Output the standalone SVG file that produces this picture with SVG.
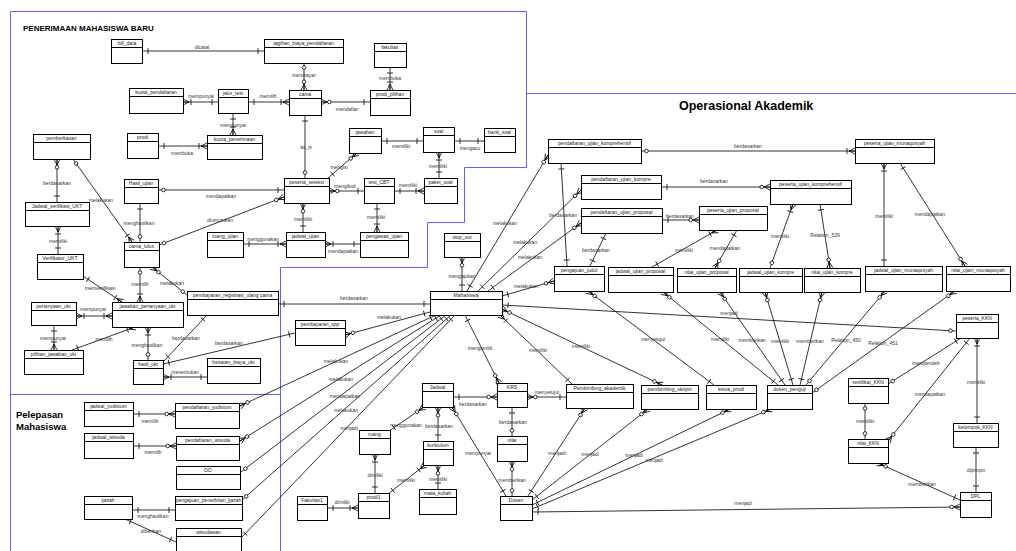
<svg xmlns="http://www.w3.org/2000/svg" width="1016" height="551" viewBox="0 0 1016 551">
<style>
.e rect{fill:#fff;stroke:#000;stroke-width:1}
.e path{stroke:#000;stroke-width:1;fill:none}
.e text{font-family:"Liberation Sans",Arial,sans-serif;font-size:5px;fill:#222;text-anchor:middle}
.c path{fill:none;stroke:#000;stroke-width:.8}
.lb text{font-family:"Liberation Sans",Arial,sans-serif;font-size:5px;fill:#333;text-anchor:middle}
.rg{fill:none;stroke:#5c5cff;stroke-width:1}
.tt{font-family:"Liberation Sans",Arial,sans-serif;font-weight:bold;fill:#000}
.s1{marker-start:url(#one)}.sM{marker-start:url(#many)}.sZ{marker-start:url(#zero)}.sZM{marker-start:url(#zmany)}
.t1{marker-end:url(#one)}.tM{marker-end:url(#many)}.tZ{marker-end:url(#zero)}.tZM{marker-end:url(#zmany)}
</style>
<defs>
<marker id="one" markerUnits="userSpaceOnUse" orient="auto-start-reverse" markerWidth="20" markerHeight="20" refX="0" refY="0" overflow="visible"><path d="M-6,-3V3" fill="none" stroke="#000" stroke-width="0.8"/></marker>
<marker id="many" markerUnits="userSpaceOnUse" orient="auto-start-reverse" markerWidth="20" markerHeight="20" refX="0" refY="0" overflow="visible"><path d="M0,-3L-6,0L0,3M0,0H-6M-8,-3V3" fill="none" stroke="#000" stroke-width="0.8"/></marker>
<marker id="zero" markerUnits="userSpaceOnUse" orient="auto-start-reverse" markerWidth="20" markerHeight="20" refX="0" refY="0" overflow="visible"><circle cx="-5.5" cy="0" r="1.8" fill="#fff" stroke="#000" stroke-width="0.8"/></marker>
<marker id="zmany" markerUnits="userSpaceOnUse" orient="auto-start-reverse" markerWidth="20" markerHeight="20" refX="0" refY="0" overflow="visible"><path d="M0,-3L-6,0L0,3M0,0H-6" fill="none" stroke="#000" stroke-width="0.8"/><circle cx="-8.3" cy="0" r="1.8" fill="#fff" stroke="#000" stroke-width="0.8"/></marker>
</defs>
<rect width="1016" height="551" fill="#fff"/>
<g id="regions">
<path class="rg" d="M10.5 551V11.5H526.5V167.5H464.5V222.5H427.5V267.5H280.5V551M10.5 394.5H280.5M526.5 93.5H1016"/>
<text class="tt" x="23" y="30.5" font-size="8">PENERIMAAN MAHASISWA BARU</text>
<text class="tt" x="679" y="110" font-size="12.5">Operasional Akademik</text>
<text class="tt" x="16" y="418" font-size="9.5">Pelepasan</text>
<text class="tt" x="16" y="430" font-size="9.5">Mahasiswa</text>
</g>
<g id="connectors" class="c">
<path d="M142 51H264" class="s1 t1"/>
<path d="M304 62V90" class="sZ tZM"/>
<path d="M183 102H218" class="sM t1"/>
<path d="M248 102H289" class="s1 tM"/>
<path d="M233 113V135" class="s1 tM"/>
<path d="M158 146H207" class="s1 tM"/>
<path d="M390 67V90" class="s1 tM"/>
<path d="M321 102H370" class="sZM t1"/>
<path d="M305 115V178" class="s1 tZ"/>
<path d="M381 141H423" class="s1 t1"/>
<path d="M454 141H484" class="s1 t1"/>
<path d="M439 152V178" class="sM t1"/>
<path d="M357 153L328 178" class="sZM t1"/>
<path d="M57 159V202" class="sZM t1"/>
<path d="M73 159L132 242" class="sZ tM"/>
<path d="M158 190H284" class="sZ t1"/>
<path d="M140 203V242" class="s1 tZ"/>
<path d="M159 245L284 197" class="sZ tZM"/>
<path d="M58 226V254" class="sM t1"/>
<path d="M83 276L122 302" class="s1 tM"/>
<path d="M140 267V302" class="sZ tM"/>
<path d="M152 267L187 295" class="sZM tZ"/>
<path d="M76 316H112" class="sM tM"/>
<path d="M54 325V350" class="s1 tM"/>
<path d="M135 327L72 350" class="sM t1"/>
<path d="M148 327V360" class="sM tZ"/>
<path d="M207 315L164 361" class="s1 t1"/>
<path d="M163 364L295 333" class="s1 t1"/>
<path d="M163 377H207" class="sM t1"/>
<path d="M278 304H430" class="s1 t1"/>
<path d="M345 335L430 312" class="sZM t1"/>
<path d="M329 191H364" class="sZM t1"/>
<path d="M394 191H424" class="s1 tM"/>
<path d="M303 203V232" class="sZM t1"/>
<path d="M377 203V232" class="s1 tM"/>
<path d="M243 244H286" class="s1 tM"/>
<path d="M325 244H360" class="sM t1"/>
<path d="M462 257V291" class="sZM t1"/>
<path d="M467 291L548 155" class="s1 tZM"/>
<path d="M478 291L581 190" class="s1 tZM"/>
<path d="M488 291L581 223" class="s1 tZM"/>
<path d="M502 296L554 281" class="s1 tZM"/>
<path d="M561 163L567 266" class="s1 t1"/>
<path d="M606 233L590 266" class="s1 t1"/>
<path d="M641 151H855" class="sZ tM"/>
<path d="M661 187H770" class="s1 tZM"/>
<path d="M662 220H699" class="s1 tZM"/>
<path d="M717 230L652 267" class="sM t1"/>
<path d="M737 230L715 268" class="s1 tZM"/>
<path d="M793 204L770 268" class="sM tZ"/>
<path d="M820 204L830 268" class="s1 tZM"/>
<path d="M884 163V266" class="sM t1"/>
<path d="M900 163L965 266" class="s1 tZM"/>
<path d="M502 305L956 331" class="s1 tZ"/>
<path d="M502 309L662 385" class="sZM tZM"/>
<path d="M500 315L572 384" class="sM t1"/>
<path d="M465 315L499 383" class="s1 tZM"/>
<path d="M240 406L436 315" class="sZM t1"/>
<path d="M240 441L441 315" class="sZM t1"/>
<path d="M241 472L446 315" class="sZ t1"/>
<path d="M242 500L451 315" class="sZ t1"/>
<path d="M241 538L455 315" class="s1 t1"/>
<path d="M133 414H175" class="s1 tZM"/>
<path d="M133 446H176" class="s1 tZM"/>
<path d="M132 510H175" class="s1 t1"/>
<path d="M125 519L176 542" class="s1 t1"/>
<path d="M453 397H497" class="s1 tZM"/>
<path d="M527 397H566" class="sZM t1"/>
<path d="M512 407V436" class="s1 tZ"/>
<path d="M424 407L389 431" class="sZM t1"/>
<path d="M438 407V441" class="sZM t1"/>
<path d="M375 454V493" class="sM t1"/>
<path d="M425 465L388 494" class="sM t1"/>
<path d="M438 465V489" class="sZM t1"/>
<path d="M327 508H358" class="s1 tM"/>
<path d="M452 407L506 496" class="sZM t1"/>
<path d="M512 461V496" class="sZM tZ"/>
<path d="M585 408L528 496" class="sZM t1"/>
<path d="M648 409L532 500" class="sZM t1"/>
<path d="M730 409L532 505" class="sZM t1"/>
<path d="M771 409L532 509" class="sZM t1"/>
<path d="M532 512L960 507" class="s1 tZM"/>
<path d="M663 292L778 385" class="sZM t1"/>
<path d="M720 292L785 385" class="sZM t1"/>
<path d="M765 292L793 385" class="sZM t1"/>
<path d="M822 292L800 385" class="sZM t1"/>
<path d="M885 291L806 385" class="sZM tZ"/>
<path d="M955 291L812 393" class="sZM tZ"/>
<path d="M588 291L714 385" class="sZM t1"/>
<path d="M961 338L888 384" class="s1 tZ"/>
<path d="M970 338L888 441" class="s1 tZM"/>
<path d="M977 338V423" class="sM t1"/>
<path d="M865 403V439" class="sZ tZ"/>
<path d="M878 463L960 500" class="sZM t1"/>
<path d="M976 447V492" class="s1 t1"/>
<g class="lb">
<text x="202" y="48.8">dicatat</text>
<text x="304" y="76.8">membayar</text>
<text x="201" y="97.8">mempunyai</text>
<text x="268" y="97.8">memilih</text>
<text x="233" y="126.8">mempunyai</text>
<text x="182" y="154.8">membuka</text>
<text x="390" y="79.8">membuka</text>
<text x="347" y="110.8">mendaftar</text>
<text x="306" y="148.8">as_is</text>
<text x="401" y="147.8">memiliki</text>
<text x="470" y="149.8">mengacu</text>
<text x="438" y="167.8">memiliki</text>
<text x="339" y="168.8">mengisi</text>
<text x="57" y="184.8">berdasarkan</text>
<text x="101" y="201.8">melakukan</text>
<text x="221" y="197.8">mendapatkan</text>
<text x="139" y="224.8">menghasilkan</text>
<text x="220" y="221.8">diumumkan</text>
<text x="58" y="242.8">memiliki</text>
<text x="100" y="289.8">memverifikasi</text>
<text x="140" y="285.8">memilih</text>
<text x="172" y="284.8">melakukan</text>
<text x="93" y="310.8">mempunyai</text>
<text x="53" y="339.8">mempunyai</text>
<text x="104" y="340.8">memilih</text>
<text x="147" y="346.8">menghasilkan</text>
<text x="186" y="339.8">berdasarkan</text>
<text x="229" y="344.8">berdasarkan</text>
<text x="185" y="373.8">menentukan</text>
<text x="354" y="299.8">berdasarkan</text>
<text x="389" y="318.8">melakukan</text>
<text x="345" y="187.8">mengikuti</text>
<text x="408" y="186.8">memiliki</text>
<text x="303" y="220.8">memiliki</text>
<text x="376" y="218.8">memiliki</text>
<text x="263" y="240.8">menggunakan</text>
<text x="343" y="252.8">mendapatkan</text>
<text x="462" y="277.8">mengajukan</text>
<text x="505" y="224.8">melakukan</text>
<text x="525" y="243.8">melakukan</text>
<text x="530" y="258.8">melakukan</text>
<text x="526" y="287.8">melakukan</text>
<text x="563" y="216.8">berdasarkan</text>
<text x="596" y="251.8">berdasarkan</text>
<text x="748" y="147.8">berdasarkan</text>
<text x="714" y="182.8">berdasarkan</text>
<text x="680" y="217.8">berdasarkan</text>
<text x="684" y="251.8">memiliki</text>
<text x="725" y="249.8">mendapatkan</text>
<text x="780" y="237.8">memiliki</text>
<text x="825" y="236.8">Relation_539</text>
<text x="884" y="217.8">memiliki</text>
<text x="930" y="215.8">mendapatkan</text>
<text x="729" y="314.8">menjadi</text>
<text x="581" y="347.8">memiliki</text>
<text x="538" y="351.8">memiliki</text>
<text x="480" y="349.8">mengambil</text>
<text x="336" y="362.8">melakukan</text>
<text x="341" y="380.8">melakukan</text>
<text x="345" y="397.8">mendapatkan</text>
<text x="346" y="411.8">melakukan</text>
<text x="349" y="429.8">menjadi</text>
<text x="150" y="422.8">memilih</text>
<text x="153" y="453.8">memilih</text>
<text x="153" y="517.8">menghasilkan</text>
<text x="151" y="532.8">diberikan</text>
<text x="473" y="405.8">berdasarkan</text>
<text x="547" y="393.8">menyetujui</text>
<text x="513" y="423.8">berdasarkan</text>
<text x="406" y="426.8">menggunakan</text>
<text x="439" y="427.8">berdasarkan</text>
<text x="375" y="476.8">dimiliki</text>
<text x="406" y="481.8">memiliki</text>
<text x="438" y="480.8">memiliki</text>
<text x="342" y="503.8">dimiliki</text>
<text x="478" y="454.8">mempunyai</text>
<text x="512" y="481.8">memberikan</text>
<text x="557" y="454.8">menjadi</text>
<text x="590" y="455.8">menjadi</text>
<text x="634" y="456.8">menjadi</text>
<text x="654" y="461.8">menjadi</text>
<text x="743" y="504.8">menjadi</text>
<text x="720" y="340.8">memiliki</text>
<text x="752" y="341.8">memberikan</text>
<text x="780" y="342.8">memiliki</text>
<text x="810" y="342.8">memberikan</text>
<text x="846" y="341.8">Relation_450</text>
<text x="883" y="344.8">Relation_451</text>
<text x="653" y="340.8">menyetujui</text>
<text x="926" y="364.8">memperoleh</text>
<text x="930" y="395.8">mendapatkan</text>
<text x="976" y="383.8">memiliki</text>
<text x="865" y="422.8">memiliki</text>
<text x="922" y="485.8">memberikan</text>
<text x="976" y="471.8">dipimpin</text>
</g>
</g>
<g id="bill_data" class="e"><rect x="111.5" y="39.5" width="31" height="24"/><path d="M111.5 47.5H142.5"/><text x="127" y="45.3">bill_data</text></g>
<g id="tagihan_biaya_pendaftaran" class="e"><rect x="264.5" y="39.5" width="79" height="24"/><path d="M264.5 47.5H343.5"/><text x="303.5" y="45.3">tagihan_biaya_pendaftaran</text></g>
<g id="fakultas" class="e"><rect x="374.5" y="43.5" width="32" height="24"/><path d="M374.5 51.5H406.5"/><text x="390" y="49.3">fakultas</text></g>
<g id="kuota_pendaftaran" class="e"><rect x="129.5" y="88.5" width="54" height="25"/><path d="M129.5 96.5H183.5"/><text x="156" y="94.3">kuota_pendaftaran</text></g>
<g id="jalur_test" class="e"><rect x="218.5" y="89.5" width="30" height="24"/><path d="M218.5 97.5H248.5"/><text x="233" y="95.3">jalur_test</text></g>
<g id="cama" class="e"><rect x="289.5" y="90.5" width="32" height="25"/><path d="M289.5 98.5H321.5"/><text x="305" y="96.3">cama</text></g>
<g id="prodi_pilihan" class="e"><rect x="370.5" y="90.5" width="40" height="25"/><path d="M370.5 98.5H410.5"/><text x="390" y="96.3">prodi_pilihan</text></g>
<g id="pemberkasan" class="e"><rect x="33.5" y="134.5" width="57" height="25"/><path d="M33.5 142.5H90.5"/><text x="61.5" y="140.3">pemberkasan</text></g>
<g id="prodi" class="e"><rect x="127.5" y="133.5" width="31" height="25"/><path d="M127.5 141.5H158.5"/><text x="142.5" y="139.3">prodi</text></g>
<g id="kuota_penerimaan" class="e"><rect x="207.5" y="135.5" width="55" height="24"/><path d="M207.5 143.5H262.5"/><text x="234.5" y="141.3">kuota_penerimaan</text></g>
<g id="jawaban" class="e"><rect x="349.5" y="128.5" width="32" height="25"/><path d="M349.5 136.5H381.5"/><text x="365" y="134.3">jawaban</text></g>
<g id="soal" class="e"><rect x="423.5" y="127.5" width="31" height="25"/><path d="M423.5 135.5H454.5"/><text x="438.5" y="133.3">soal</text></g>
<g id="bank_soal" class="e"><rect x="484.5" y="128.5" width="31" height="24"/><path d="M484.5 136.5H515.5"/><text x="499.5" y="134.3">bank_soal</text></g>
<g id="Hasil_ujian" class="e"><rect x="124.5" y="179.5" width="34" height="24"/><path d="M124.5 187.5H158.5"/><text x="141" y="185.3">Hasil_ujian</text></g>
<g id="peserta_seleksi" class="e"><rect x="284.5" y="178.5" width="45" height="25"/><path d="M284.5 186.5H329.5"/><text x="306.5" y="184.3">peserta_seleksi</text></g>
<g id="test_CBT" class="e"><rect x="364.5" y="178.5" width="30" height="25"/><path d="M364.5 186.5H394.5"/><text x="379" y="184.3">test_CBT</text></g>
<g id="paket_soal" class="e"><rect x="424.5" y="178.5" width="33" height="25"/><path d="M424.5 186.5H457.5"/><text x="440.5" y="184.3">paket_soal</text></g>
<g id="Jadwal_verifikasi_UKT" class="e"><rect x="25.5" y="202.5" width="64" height="24"/><path d="M25.5 210.5H89.5"/><text x="57" y="208.3">Jadwal_verifikasi_UKT</text></g>
<g id="Verifikator_UKT" class="e"><rect x="37.5" y="254.5" width="46" height="25"/><path d="M37.5 262.5H83.5"/><text x="60" y="260.3">Verifikator_UKT</text></g>
<g id="cama_lulus" class="e"><rect x="124.5" y="242.5" width="35" height="25"/><path d="M124.5 250.5H159.5"/><text x="141.5" y="248.3">cama_lulus</text></g>
<g id="ruang_ujian" class="e"><rect x="207.5" y="232.5" width="36" height="25"/><path d="M207.5 240.5H243.5"/><text x="225" y="238.3">ruang_ujian</text></g>
<g id="jadwal_ujian" class="e"><rect x="286.5" y="232.5" width="39" height="25"/><path d="M286.5 240.5H325.5"/><text x="305.5" y="238.3">jadwal_ujian</text></g>
<g id="pengawas_ujian" class="e"><rect x="360.5" y="232.5" width="48" height="25"/><path d="M360.5 240.5H408.5"/><text x="384" y="238.3">pengawas_ujian</text></g>
<g id="stop_out" class="e"><rect x="444.5" y="233.5" width="36" height="24"/><path d="M444.5 241.5H480.5"/><text x="462" y="239.3">stop_out</text></g>
<g id="Mahasiswa" class="e"><rect x="430.5" y="291.5" width="72" height="24"/><path d="M430.5 299.5H502.5"/><text x="466" y="297.3">Mahasiswa</text></g>
<g id="pembayaran_registrasi_ulang_cama" class="e"><rect x="187.5" y="291.5" width="91" height="24"/><path d="M187.5 299.5H278.5"/><text x="232.5" y="297.3">pembayaran_registrasi_ulang cama</text></g>
<g id="pembayaran_spp" class="e"><rect x="295.5" y="320.5" width="50" height="25"/><path d="M295.5 328.5H345.5"/><text x="320" y="326.3">pembayaran_spp</text></g>
<g id="pertanyaan_ukt" class="e"><rect x="31.5" y="302.5" width="45" height="23"/><path d="M31.5 310.5H76.5"/><text x="53.5" y="308.3">pertanyaan_ukt</text></g>
<g id="jawaban_pertanyaan_ukt" class="e"><rect x="112.5" y="302.5" width="71" height="25"/><path d="M112.5 310.5H183.5"/><text x="147.5" y="308.3">jawaban_pertanyaan_ukt</text></g>
<g id="pilihan_jawaban_ukt" class="e"><rect x="24.5" y="350.5" width="59" height="24"/><path d="M24.5 358.5H83.5"/><text x="53.5" y="356.3">pilihan_jawaban_ukt</text></g>
<g id="hasil_ukt" class="e"><rect x="133.5" y="360.5" width="30" height="24"/><path d="M133.5 368.5H163.5"/><text x="148" y="366.3">hasil_ukt</text></g>
<g id="besaran_biaya_ukt" class="e"><rect x="207.5" y="358.5" width="53" height="25"/><path d="M207.5 366.5H260.5"/><text x="233.5" y="364.3">besaran_biaya_ukt</text></g>
<g id="jadwal_yudisium" class="e"><rect x="84.5" y="402.5" width="49" height="24"/><path d="M84.5 410.5H133.5"/><text x="108.5" y="408.3">jadwal_yudisium</text></g>
<g id="pendaftaran_yudisium" class="e"><rect x="175.5" y="403.5" width="64" height="25"/><path d="M175.5 411.5H239.5"/><text x="207" y="409.3">pendaftaran_yudisium</text></g>
<g id="jadwal_wisuda" class="e"><rect x="84.5" y="433.5" width="49" height="25"/><path d="M84.5 441.5H133.5"/><text x="108.5" y="439.3">jadwal_wisuda</text></g>
<g id="pendaftaran_wisuda" class="e"><rect x="176.5" y="436.5" width="63" height="24"/><path d="M176.5 444.5H239.5"/><text x="207.5" y="442.3">pendaftaran_wisuda</text></g>
<g id="DO" class="e"><rect x="176.5" y="466.5" width="64" height="23"/><path d="M176.5 474.5H240.5"/><text x="208" y="472.3">DO</text></g>
<g id="ijazah" class="e"><rect x="84.5" y="496.5" width="48" height="23"/><path d="M84.5 504.5H132.5"/><text x="108" y="502.3">ijazah</text></g>
<g id="pengajuan_penerbitan_ijazah" class="e"><rect x="175.5" y="496.5" width="67" height="24"/><path d="M175.5 504.5H242.5"/><text x="208.5" y="502.3">pengajuan_penerbitan_ijazah</text></g>
<g id="wisudawan" class="e"><rect x="176.5" y="528.5" width="65" height="24"/><path d="M176.5 536.5H241.5"/><text x="208.5" y="534.3">wisudawan</text></g>
<g id="Jadwal" class="e"><rect x="422.5" y="383.5" width="31" height="24"/><path d="M422.5 391.5H453.5"/><text x="437.5" y="389.3">Jadwal</text></g>
<g id="KRS" class="e"><rect x="497.5" y="383.5" width="30" height="24"/><path d="M497.5 391.5H527.5"/><text x="512" y="389.3">KRS</text></g>
<g id="ruang" class="e"><rect x="359.5" y="430.5" width="31" height="24"/><path d="M359.5 438.5H390.5"/><text x="374.5" y="436.3">ruang</text></g>
<g id="kurikulum" class="e"><rect x="423.5" y="441.5" width="30" height="24"/><path d="M423.5 449.5H453.5"/><text x="438" y="447.3">kurikulum</text></g>
<g id="nilai" class="e"><rect x="497.5" y="436.5" width="30" height="25"/><path d="M497.5 444.5H527.5"/><text x="512" y="442.3">nilai</text></g>
<g id="Fakultas1" class="e"><rect x="297.5" y="496.5" width="30" height="24"/><path d="M297.5 504.5H327.5"/><text x="312" y="502.3">Fakultas1</text></g>
<g id="prodi1" class="e"><rect x="358.5" y="493.5" width="31" height="25"/><path d="M358.5 501.5H389.5"/><text x="373.5" y="499.3">prodi1</text></g>
<g id="mata_kuliah" class="e"><rect x="419.5" y="489.5" width="37" height="25"/><path d="M419.5 497.5H456.5"/><text x="437.5" y="495.3">mata_kuliah</text></g>
<g id="Dosen" class="e"><rect x="500.5" y="496.5" width="32" height="24"/><path d="M500.5 504.5H532.5"/><text x="516" y="502.3">Dosen</text></g>
<g id="pendaftaran_ujian_komprehensif" class="e"><rect x="548.5" y="139.5" width="93" height="24"/><path d="M548.5 147.5H641.5"/><text x="594.5" y="145.3">pendaftaran_ujian_komprehensif</text></g>
<g id="pendaftaran_ujian_kompre" class="e"><rect x="581.5" y="175.5" width="80" height="24"/><path d="M581.5 183.5H661.5"/><text x="621" y="181.3">pendaftaran_ujian_kompre</text></g>
<g id="pendaftaran_ujian_proposal" class="e"><rect x="581.5" y="208.5" width="81" height="25"/><path d="M581.5 216.5H662.5"/><text x="621.5" y="214.3">pendaftaran_ujian_proposal</text></g>
<g id="peserta_ujian_proposal" class="e"><rect x="699.5" y="206.5" width="68" height="24"/><path d="M699.5 214.5H767.5"/><text x="733" y="212.3">peserta_ujian_proposal</text></g>
<g id="peserta_ujian_munaqosyah" class="e"><rect x="855.5" y="139.5" width="79" height="24"/><path d="M855.5 147.5H934.5"/><text x="894.5" y="145.3">peserta_ujian_munaqosyah</text></g>
<g id="peserta_ujian_komprehensif" class="e"><rect x="770.5" y="180.5" width="81" height="24"/><path d="M770.5 188.5H851.5"/><text x="810.5" y="186.3">peserta_ujian_komprehensif</text></g>
<g id="pengajuan_judul" class="e"><rect x="554.5" y="266.5" width="50" height="25"/><path d="M554.5 274.5H604.5"/><text x="579" y="272.3">pengajuan_judul</text></g>
<g id="jadwal_ujian_proposal" class="e"><rect x="608.5" y="267.5" width="65" height="25"/><path d="M608.5 275.5H673.5"/><text x="640.5" y="273.3">jadwal_ujian_proposal</text></g>
<g id="nilai_ujian_proposal" class="e"><rect x="677.5" y="268.5" width="59" height="24"/><path d="M677.5 276.5H736.5"/><text x="706.5" y="274.3">nilai_ujian_proposal</text></g>
<g id="jadwal_ujian_kompre" class="e"><rect x="739.5" y="268.5" width="63" height="24"/><path d="M739.5 276.5H802.5"/><text x="770.5" y="274.3">jadwal_ujian_kompre</text></g>
<g id="nilai_ujian_kompre" class="e"><rect x="804.5" y="268.5" width="56" height="24"/><path d="M804.5 276.5H860.5"/><text x="832" y="274.3">nilai_ujian_kompre</text></g>
<g id="jadwal_ujian_munaqosyah" class="e"><rect x="865.5" y="266.5" width="77" height="25"/><path d="M865.5 274.5H942.5"/><text x="903.5" y="272.3">jadwal_ujian_munaqosyah</text></g>
<g id="nilai_ujian_munaqosyah" class="e"><rect x="946.5" y="266.5" width="64" height="25"/><path d="M946.5 274.5H1010.5"/><text x="978" y="272.3">nilai_ujian_munaqosyah</text></g>
<g id="Pembimbing_akademik" class="e"><rect x="566.5" y="384.5" width="67" height="24"/><path d="M566.5 392.5H633.5"/><text x="599.5" y="390.3">Pembimbing_akademik</text></g>
<g id="pembimbing_skripsi" class="e"><rect x="641.5" y="385.5" width="57" height="24"/><path d="M641.5 393.5H698.5"/><text x="669.5" y="391.3">pembimbing_skripsi</text></g>
<g id="ketua_prodi" class="e"><rect x="706.5" y="385.5" width="50" height="24"/><path d="M706.5 393.5H756.5"/><text x="731" y="391.3">ketua_prodi</text></g>
<g id="dosen_penguji" class="e"><rect x="767.5" y="385.5" width="45" height="24"/><path d="M767.5 393.5H812.5"/><text x="789.5" y="391.3">dosen_penguji</text></g>
<g id="peserta_KKN" class="e"><rect x="956.5" y="314.5" width="42" height="24"/><path d="M956.5 322.5H998.5"/><text x="977" y="320.3">peserta_KKN</text></g>
<g id="sertifikat_KKN" class="e"><rect x="848.5" y="378.5" width="40" height="25"/><path d="M848.5 386.5H888.5"/><text x="868" y="384.3">sertifikat_KKN</text></g>
<g id="nilai_KKN" class="e"><rect x="848.5" y="439.5" width="40" height="24"/><path d="M848.5 447.5H888.5"/><text x="868" y="445.3">nilai_KKN</text></g>
<g id="kelompok_KKN" class="e"><rect x="953.5" y="423.5" width="45" height="24"/><path d="M953.5 431.5H998.5"/><text x="975.5" y="429.3">kelompok_KKN</text></g>
<g id="DPL" class="e"><rect x="960.5" y="492.5" width="31" height="25"/><path d="M960.5 500.5H991.5"/><text x="975.5" y="498.3">DPL</text></g>
</svg>
